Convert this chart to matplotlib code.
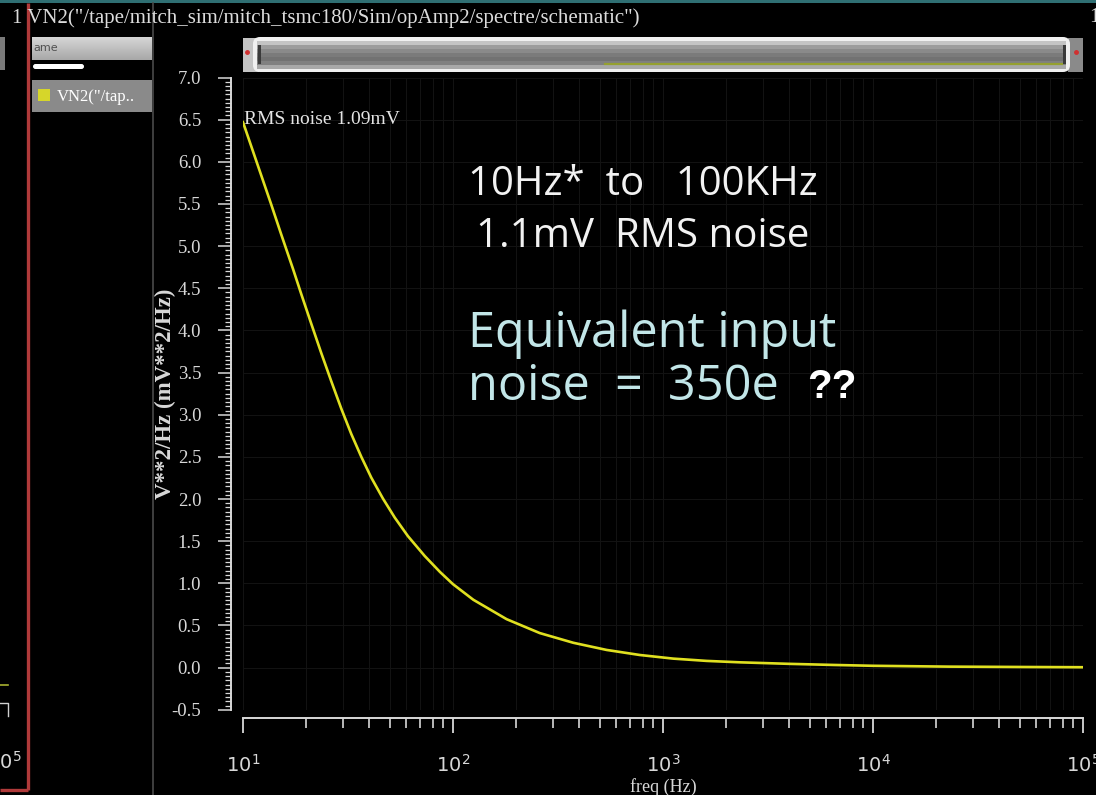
import numpy as np
import matplotlib
matplotlib.use("Agg")
import matplotlib.pyplot as plt
from matplotlib.colors import LinearSegmentedColormap
from matplotlib.patches import Rectangle, FancyBboxPatch
from matplotlib.ticker import LogLocator, NullFormatter, MultipleLocator, FormatStrFormatter

plt.rcParams['mathtext.fontset'] = 'custom'
plt.rcParams['mathtext.rm'] = 'Liberation Serif'
plt.rcParams['mathtext.it'] = 'Liberation Serif:italic'

# Output noise spectral density VN2 (mV^2/Hz) versus frequency
freq_hz = [10, 13.6, 15.2, 17.3, 18.95, 21.2, 23.6, 26.3, 29.4, 32.8, 36.6, 40.8, 46.4,
           52.8, 61.0, 73.3, 86.7, 100, 125, 180, 259, 374, 539, 776, 1120, 1614, 2330,
           4000, 6500, 10000, 23000, 50000, 100000]
vn2_mv2 = [6.47, 5.50, 5.14, 4.73, 4.43, 4.07, 3.73, 3.40, 3.07, 2.77, 2.50, 2.255, 2.005,
           1.78, 1.56, 1.325, 1.135, 0.99, 0.805, 0.575, 0.41, 0.295, 0.21, 0.15, 0.107,
           0.08, 0.063, 0.045, 0.032, 0.022, 0.012, 0.008, 0.005]

decade_ticks = [1e1, 1e2, 1e3, 1e4, 1e5]
decade_labels = [r'$\mathregular{10^{1}}$', r'$\mathregular{10^{2}}$', r'$\mathregular{10^{3}}$',
                 r'$\mathregular{10^{4}}$', r'$\mathregular{10^{5}}$']
rms_label = "RMS noise 1.09mV"
trace_name = 'VN2("/tape/mitch_sim/mitch_tsmc180/Sim/opAmp2/spectre/schematic")'

W, H = 1096, 795
fig = plt.figure(figsize=(W / 100, H / 100), dpi=100, facecolor='black')

# ---- window chrome drawn in pixel coordinates ----
bg = fig.add_axes([0, 0, 1, 1], zorder=0)
bg.set_xlim(0, W)
bg.set_ylim(H, 0)
bg.axis('off')
bg.set_facecolor('none')

bg.add_patch(Rectangle((0, 0), W, 3, color='#2f6f73', lw=0))
bg.plot([28, 28], [3, 790], color='#b03a3a', lw=2.4, solid_capstyle='butt')
bg.plot([0, 28], [790, 790], color='#b03a3a', lw=2.4, solid_capstyle='butt')
bg.plot([153, 153], [3, H], color='#4a4a4a', lw=1.2)

# fragment of the neighbouring strip on the far left
bg.add_patch(Rectangle((0, 37), 5, 33, color='#7a7a7a', lw=0))
bg.plot([0, 8], [685, 685], color='#a8b030', lw=1.2)
bg.plot([0, 8, 8], [703, 703, 716], color='#d0d0d0', lw=1.0)
bg.text(22, 762, r'$\mathregular{10^{5}}$', ha='right', va='center', color='#d8d8d8',
        fontsize=14)

# signal browser panel
grad = np.linspace(0, 1, 50).reshape(-1, 1)
bg.imshow(grad, extent=(32, 152, 60, 37),
          cmap=LinearSegmentedColormap.from_list('hdr', ['#d6d6d6', '#a8a8a8']),
          aspect='auto', zorder=1)
bg.text(33, 48, 'ame', color='#505050', fontsize=8, va='center', ha='left',
        family='DejaVu Sans', zorder=2)
bg.add_patch(FancyBboxPatch((33, 64), 51, 5, boxstyle='round,pad=0,rounding_size=2.5',
                            color='white', lw=0, zorder=2))
bg.add_patch(Rectangle((32, 80), 120, 32, color='#8a8a8a', lw=0, zorder=1))
bg.add_patch(Rectangle((38, 89), 12, 12, color='#d6d62a', lw=0, zorder=2))
bg.text(57, 97, 'VN2("/tap..', color='white', fontsize=12, va='center', ha='left',
        family='Liberation Serif', zorder=2)

# title line
bg.text(12, 18, '1 ' + trace_name, color='#dcdcdc', fontsize=15, va='center', ha='left',
        family='Liberation Serif')
bg.text(1089, 18, '1', color='#dcdcdc', fontsize=15, va='center', ha='left',
        family='Liberation Serif')

# horizontal zoom scrollbar
bg.add_patch(Rectangle((243, 38), 16, 34, color='#c4c4c4', lw=0, zorder=1))
bg.add_patch(Rectangle((1068, 38), 15, 34, color='#8a8a8a', lw=0, zorder=1))
bg.add_patch(FancyBboxPatch((253, 37), 817, 35, boxstyle='round,pad=0,rounding_size=7',
                            facecolor='#f0f0f0', edgecolor='none', zorder=2))
bar = np.linspace(0, 1, 7).reshape(-1, 1)
bg.imshow(bar, extent=(257, 1066, 69, 41),
          cmap=LinearSegmentedColormap.from_list(
              'bar', ['#c4c4c4', '#9c9c9c', '#8a8a8a', '#7c7c7c', '#727272', '#808080', '#a8a8a8']),
          aspect='auto', zorder=3)
bg.plot([605, 1062], [64, 64], color='#95a030', lw=1.6, zorder=4)
bg.add_patch(Rectangle((258, 45), 3, 19, color='#3a3a3a', lw=0, zorder=4))
bg.add_patch(Rectangle((1063, 45), 3, 19, color='#3a3a3a', lw=0, zorder=4))
bg.plot([247], [52], marker='o', ms=2.5, color='#d03030', zorder=4)
bg.plot([1076], [52], marker='o', ms=2.5, color='#d03030', zorder=4)

# ---- main plot ----
left, right = 243, 1083
top, bottom = 77.5, 709.8
ax = fig.add_axes([left / W, 1 - bottom / H, (right - left) / W, (bottom - top) / H], zorder=1)
ax.set_facecolor('none')

ax.plot(freq_hz, vn2_mv2, color='#e0e020', lw=1.9, solid_joinstyle='round', zorder=3)

ax.set_xscale('log')
ax.set_xlim(10, 1e5)
ax.set_ylim(-0.5, 7.0)

ax.set_xticks(decade_ticks)
ax.set_xticklabels(decade_labels)
ax.xaxis.set_minor_locator(LogLocator(base=10, subs=np.arange(2, 10)))
ax.xaxis.set_minor_formatter(NullFormatter())
ax.yaxis.set_major_locator(MultipleLocator(0.5))
ax.yaxis.set_major_formatter(FormatStrFormatter('%.1f'))
ax.yaxis.set_minor_locator(MultipleLocator(0.05))

ax.grid(True, which='both', color='#121212', lw=0.8)
ax.grid(False, axis='y', which='minor')

for s in ('top', 'right'):
    ax.spines[s].set_visible(False)
ax.spines['left'].set_position(('outward', 8.6))
ax.spines['bottom'].set_position(('outward', 5.8))
for s in ('left', 'bottom'):
    ax.spines[s].set_color('#d8d8d8')
    ax.spines[s].set_linewidth(1.4)

ax.tick_params(axis='y', which='major', length=9.5, width=1.1, color='#d8d8d8',
               labelcolor='#d8d8d8', labelsize=13.5, pad=12)
ax.tick_params(axis='y', which='minor', length=4, width=0.9, color='#d8d8d8')
ax.tick_params(axis='x', which='major', length=11, width=1.3, color='#d8d8d8',
               labelcolor='#d8d8d8', labelsize=14, pad=15)
ax.tick_params(axis='x', which='minor', length=7, width=1.2, color='#d8d8d8')
for lab in ax.get_yticklabels():
    lab.set_family('Liberation Serif')

ax.set_xlabel('freq (Hz)', color='#d8d8d8', fontsize=13, family='Liberation Serif')
ax.xaxis.set_label_coords(0.5, -0.108)
ax.set_ylabel('V**2/Hz (mV**2/Hz)', color='#d8d8d8', fontsize=16.5, fontweight='bold',
              family='Liberation Serif')
ax.yaxis.set_label_coords((176 - left) / (right - left), 0.5)

ax.text(10.1, 6.5, rms_label, color='#e4e4e4', fontsize=14, ha='left', va='center',
        family='Liberation Serif', zorder=4)

# ---- slide annotations ----
def fig_text(x, y, s, **kw):
    ax.text(x / W, 1 - y / H, s, transform=fig.transFigure, va='baseline', ha='left',
            clip_on=False, zorder=5, **kw)

sans = ['Open Sans', 'DejaVu Sans']
fig_text(468, 195, '10Hz*  to   100KHz', color='#f2f2f2', fontsize=29, family=sans)
fig_text(476, 247, '1.1mV  RMS noise', color='#f2f2f2', fontsize=29, family=sans)
fig_text(468, 347, 'Equivalent input', color='#c2e6e8', fontsize=35, family=sans)
fig_text(468, 400, 'noise  =  350e', color='#c2e6e8', fontsize=35, family=sans)
fig_text(807, 398, '??', color='white', fontsize=29, family=['Liberation Sans'],
         fontweight='bold')

fig.savefig('out.png', dpi=100, facecolor='black')
